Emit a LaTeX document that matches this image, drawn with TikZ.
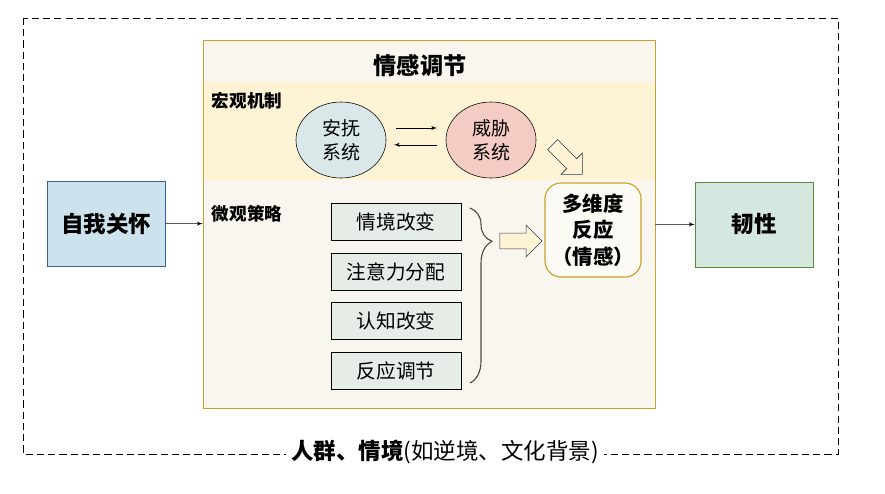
\documentclass[tikz,border=0pt]{standalone}
\usepackage{fontspec}
\setmainfont{Noto Sans CJK SC}
\usepackage{xcolor}
\usetikzlibrary{shapes,arrows,positioning,decorations.pathreplacing}
\definecolor{gold}{RGB}{201, 160, 40}
\definecolor{paper}{RGB}{249, 246, 239}
\definecolor{band}{RGB}{255, 243, 214}
\definecolor{calmfill}{RGB}{218, 232, 234}
\definecolor{threatfill}{RGB}{244, 204, 196}
\definecolor{stratfill}{RGB}{230, 236, 230}
\definecolor{selffill}{RGB}{204, 227, 238}
\definecolor{selfline}{RGB}{59, 95, 160}
\definecolor{resfill}{RGB}{213, 232, 223}
\definecolor{resline}{RGB}{90, 138, 60}
\definecolor{navy}{RGB}{40, 55, 90}
\tikzstyle{outcome} = [rectangle, draw, minimum width=2.95cm, minimum height=2.125cm, font=\fontsize{16}{19}\selectfont\bfseries]
\tikzstyle{system} = [ellipse, draw, fill=threatfill, minimum width=2.25cm, minimum height=1.9cm, align=center, font=\fontsize{13.5}{17}\selectfont]
\tikzstyle{strategy} = [rectangle, draw, fill=stratfill, minimum width=3.25cm, minimum height=0.925cm, font=\fontsize{14}{17}\selectfont]
\tikzstyle{heading} = [anchor=west, font=\fontsize{12.5}{15}\selectfont\bfseries]
\tikzstyle{blockarrow} = [single arrow, draw=navy, fill=band, inner sep=0pt, minimum height=1.05cm, single arrow head extend=0.2cm]
\tikzstyle{line} = [draw, -latex']

\begin{document}
\begin{tikzpicture}[x=0.025cm, y=-0.025cm]
    \useasboundingbox (0,0) rectangle (885,493);
    % context frame
    \draw [dash pattern=on 5pt off 3pt] (23,18) rectangle (838,454);

    % emotion regulation block
    \node [draw=gold, fill=paper, minimum width=11.3cm, minimum height=9.2cm] (regulation) at (429,224) {};
    \fill [band] (204,82) rectangle (654,180);
    \node [font=\fontsize{16.5}{20}\selectfont\bfseries] (title) at (420,66) {情感调节};
    \node [heading] (macro) at (207,101) {宏观机制};
    \node [heading] (micro) at (207,214) {微观策略};

    \node [system, fill=calmfill] (soothe) at (341,140) {安抚\\系统};
    \node [system] (threat) at (491,140) {威胁\\系统};
    \draw [-latex'] ([xshift=1.375cm, yshift=0.3cm]soothe.center) -- ([xshift=-1.35cm, yshift=0.3cm]threat.center);
    \draw [-latex'] ([xshift=-1.35cm, yshift=-0.12cm]threat.center) -- ([xshift=1.325cm, yshift=-0.12cm]soothe.center);

    \node [strategy] (situation) at (396,222) {情境改变};
    \node [strategy, below=0.3cm of situation] (attention) {注意力分配};
    \node [strategy, below=0.3cm of attention] (appraisal) {认知改变};
    \node [strategy, below=0.3cm of appraisal] (modulation) {反应调节};
    \draw [decorate, decoration={brace, amplitude=0.55cm, aspect=0.19}, black!70, thick] (470,208) -- (470,383);

    \node [rectangle, draw=gold, thick, fill=paper!60!white, rounded corners=0.4cm, minimum width=2.4cm, minimum height=2.35cm, align=center, font=\fontsize{14.5}{19}\selectfont\bfseries] (response) at (593,230) {多维度\\反应\\（情感）};
    \node [blockarrow, minimum width=0.75cm, inner ysep=0.19cm] (toresponse) at (517,241) {};
    \node [blockarrow, minimum width=0.75cm, inner ysep=0.17cm, rotate=-45] (fromthreat) at (565,157) {};

    % outer nodes
    \node [outcome, draw=selfline, fill=selffill] (selfcare) at (106,223.5) {自我关怀};
    \node [outcome, draw=resline, fill=resfill] (resilience) at (754,224.5) {韧性};
    \path [line] (selfcare) -- (regulation);
    \path [line] (regulation) -- (resilience);

    \node [fill=white, inner xsep=4pt, font=\fontsize{16}{19}\selectfont] (context) at (445,452) {\textbf{人群、情境}(如逆境、文化背景)};
\end{tikzpicture}
\end{document}
